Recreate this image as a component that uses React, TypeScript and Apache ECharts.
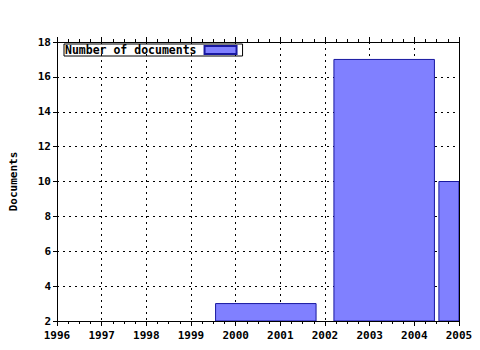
import React, { useEffect, useRef } from "react";
import * as echarts from "echarts";

const binStarts = [1999.55, 2002.2, 2004.55];
const binEnds = [2001.8, 2004.45, 2006.8];
const docCounts = [3, 17, 10];
const seriesName = "Number of documents";
const xMin = 1996;
const xMax = 2005;
const yMin = 2;
const yMax = 18;

const FONT = "DejaVu Sans Mono";

export default function App() {
  const ref = useRef<HTMLDivElement>(null);
  useEffect(() => {
    if (!ref.current) return;
    const chart = echarts.init(ref.current, null, { renderer: "svg" });
    const data = binStarts.map((s, i) => [s, binEnds[i], docCounts[i]]);
    const labelStyle = { color: "#000", fontFamily: FONT, fontWeight: "bold", fontSize: 11 };
    chart.setOption({
      animation: false,
      backgroundColor: "#fff",
      grid: { left: 57, right: 21, top: 42, bottom: 29 },
      legend: {
        left: 64,
        top: 44,
        orient: "horizontal",
        align: "right",
        padding: [0, 5, 0, 1],
        borderColor: "#000",
        borderWidth: 1,
        itemWidth: 32,
        itemHeight: 8,
        itemGap: 0,
        data: [{ name: seriesName, icon: "rect" }],
        textStyle: { color: "#000", fontFamily: FONT, fontWeight: "bold", fontSize: 11.5, padding: [0, 3, 0, 0] },
      },
      xAxis: [
        {
          type: "value",
          min: xMin,
          max: xMax,
          interval: 1,
          position: "bottom",
          axisLine: { show: true, lineStyle: { color: "#000", width: 1 } },
          axisTick: { show: true, inside: false, length: 5, lineStyle: { color: "#000" } },
          minorTick: { show: true, splitNumber: 4, length: 3, lineStyle: { color: "#000" } },
          splitLine: { show: true, lineStyle: { color: "#000", type: [2, 4], width: 1 } },
          axisLabel: { ...labelStyle, margin: 9, formatter: (v: number) => String(v) },
        },
        {
          type: "value",
          min: xMin,
          max: xMax,
          interval: 1,
          position: "top",
          axisLine: { show: true, lineStyle: { color: "#000", width: 1 } },
          axisTick: { show: true, inside: false, length: 5, lineStyle: { color: "#000" } },
          minorTick: { show: true, splitNumber: 4, length: 3, lineStyle: { color: "#000" } },
          splitLine: { show: false },
          axisLabel: { show: false },
        },
      ],
      yAxis: [
        {
          type: "value",
          min: yMin,
          max: yMax,
          interval: 2,
          position: "left",
          name: "Documents",
          nameLocation: "middle",
          nameRotate: 90,
          nameGap: 38,
          nameTextStyle: { color: "#000", fontFamily: FONT, fontWeight: "bold", fontSize: 11 },
          axisLine: { show: true, lineStyle: { color: "#000", width: 1 } },
          axisTick: { show: true, inside: false, length: 4, lineStyle: { color: "#000" } },
          splitLine: { show: true, lineStyle: { color: "#000", type: [2, 4], width: 1 } },
          axisLabel: { ...labelStyle, margin: 6 },
        },
        {
          type: "value",
          min: yMin,
          max: yMax,
          interval: 2,
          position: "right",
          axisLine: { show: true, lineStyle: { color: "#000", width: 1 } },
          axisTick: { show: false },
          splitLine: { show: false },
          axisLabel: { show: false },
        },
      ],
      series: [
        {
          name: seriesName,
          type: "custom",
          xAxisIndex: 0,
          yAxisIndex: 0,
          clip: true,
          itemStyle: { color: "#8080ff", borderColor: "#1818a0", borderWidth: 1 },
          encode: { x: [0, 1], y: 2 },
          data,
          renderItem: (params: any, api: any) => {
            const p0 = api.coord([api.value(0), api.value(2)]);
            const p1 = api.coord([api.value(1), yMin]);
            const rect = echarts.graphic.clipRectByRect(
              { x: p0[0], y: p0[1], width: p1[0] - p0[0], height: p1[1] - p0[1] },
              {
                x: params.coordSys.x,
                y: params.coordSys.y,
                width: params.coordSys.width,
                height: params.coordSys.height,
              }
            );
            if (!rect) return null;
            return {
              type: "rect",
              shape: rect,
              style: { fill: "#8080ff", stroke: "#1818a0", lineWidth: 1 },
            };
          },
        },
      ],
    });
    return () => chart.dispose();
  }, []);
  return <div ref={ref} style={{ width: 480, height: 350, position: "absolute", left: 0, top: 0 }} />;
}
